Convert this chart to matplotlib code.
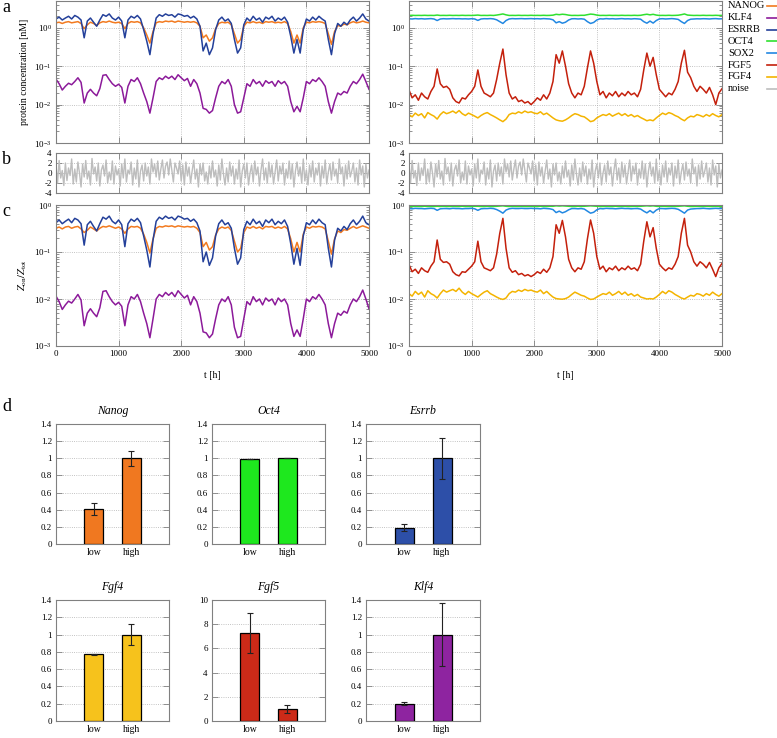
import numpy as np
import matplotlib
matplotlib.use('Agg')
import matplotlib.pyplot as plt
from matplotlib.lines import Line2D
from matplotlib.ticker import FuncFormatter, LogLocator, NullFormatter

plt.rcParams['font.family'] = ['Liberation Serif', 'DejaVu Serif']
plt.rcParams['mathtext.fontset'] = 'stix'
plt.rcParams['axes.unicode_minus'] = False

# time grid of the simulated traces (h)
t = np.arange(0, 5001, 50)

# panel a: protein concentration [nM]
nanog_a = [1.35, 1.4, 1.3, 1.4, 1.45, 1.35, 1.4, 1.45, 1.3, 0.95,
           1.2, 1.4, 1.3, 1.15, 1.35, 1.45, 1.4, 1.5, 1.4, 1.35,
           1.4, 1.3, 0.95, 1.3, 1.45, 1.4, 1.45, 1.35, 1.0, 0.65,
           0.4, 0.8, 1.35, 1.45, 1.4, 1.5, 1.45, 1.5, 1.4, 1.5,
           1.45, 1.4, 1.45, 1.4, 1.45, 1.35, 1.1, 0.55, 0.65, 0.45,
           0.55, 0.95, 1.3, 1.4, 1.35, 1.4, 1.2, 0.7, 0.4, 0.5,
           1.1, 1.4, 1.35, 1.45, 1.35, 1.4, 1.3, 1.45, 1.4, 1.45,
           1.35, 1.4, 1.35, 1.45, 1.3, 0.8, 0.4, 0.65, 0.4, 1.0,
           1.4, 1.35, 1.45, 1.4, 1.45, 1.4, 1.3, 0.7, 0.37, 0.8,
           1.15, 1.1, 1.25, 1.2, 1.35, 1.45, 1.35, 1.4, 1.5, 1.4,
           1.35]
esrrb_a = [1.7, 1.9, 1.6, 1.8, 2.0, 1.7, 2.1, 1.9, 1.6, 0.55,
           1.5, 1.8, 1.4, 1.1, 1.6, 2.2, 2.0, 2.3, 1.8, 1.6,
           1.9, 1.5, 0.55, 1.6, 2.0, 1.8, 2.1, 1.7, 0.9, 0.45,
           0.2, 0.7, 1.8, 2.2, 2.0, 2.3, 2.1, 2.2, 1.9, 2.3,
           2.2, 2.0, 2.1, 1.8, 2.0, 1.7, 1.1, 0.25, 0.4, 0.2,
           0.3, 0.9, 1.6, 1.9, 1.5, 1.7, 1.3, 0.5, 0.22, 0.3,
           1.2, 1.8, 1.5, 2.0, 1.6, 1.8, 1.4, 1.9, 1.7, 2.0,
           1.5, 1.8, 1.6, 1.9, 1.4, 0.6, 0.22, 0.5, 0.22, 0.9,
           1.7, 1.5, 1.9, 1.6, 2.0, 1.7, 1.5, 0.5, 0.2, 0.7,
           1.3, 1.1, 1.4, 1.2, 1.6, 1.9, 1.5, 1.8, 2.3, 1.7,
           1.5]
klf4_a = [0.046, 0.035, 0.024, 0.03, 0.036, 0.033, 0.04, 0.05, 0.038, 0.011,
          0.02, 0.025, 0.02, 0.017, 0.026, 0.058, 0.06, 0.045, 0.035, 0.03,
          0.034, 0.028, 0.011, 0.03, 0.045, 0.04, 0.05, 0.035, 0.02, 0.012,
          0.006, 0.015, 0.04, 0.05, 0.045, 0.055, 0.048, 0.055, 0.045, 0.06,
          0.05, 0.042, 0.048, 0.03, 0.045, 0.035, 0.02, 0.008, 0.0075, 0.006,
          0.007, 0.015, 0.03, 0.04, 0.035, 0.045, 0.03, 0.01, 0.006, 0.0065,
          0.015, 0.035, 0.03, 0.045, 0.035, 0.04, 0.03, 0.042, 0.036, 0.04,
          0.03, 0.042, 0.035, 0.04, 0.03, 0.012, 0.0065, 0.009, 0.0065, 0.015,
          0.04, 0.035, 0.045, 0.04, 0.05, 0.04, 0.03, 0.012, 0.006, 0.012,
          0.02, 0.018, 0.022, 0.02, 0.03, 0.04, 0.035, 0.045, 0.062, 0.04,
          0.025]
oct4_a = [2.1, 2.12, 2.1, 2.11, 2.1, 2.12, 2.1, 2.11, 2.1, 2.15,
          2.1, 2.11, 2.1, 2.12, 2.1, 2.11, 2.1, 2.12, 2.1, 2.11,
          2.1, 2.12, 2.15, 2.1, 2.11, 2.1, 2.12, 2.1, 2.15, 2.22,
          2.3, 2.18, 2.1, 2.11, 2.1, 2.12, 2.1, 2.11, 2.1, 2.12,
          2.1, 2.11, 2.1, 2.12, 2.1, 2.11, 2.14, 2.25, 2.2, 2.26,
          2.22, 2.14, 2.1, 2.11, 2.1, 2.12, 2.12, 2.2, 2.28, 2.24,
          2.15, 2.1, 2.11, 2.1, 2.12, 2.1, 2.11, 2.1, 2.12, 2.1,
          2.11, 2.1, 2.12, 2.1, 2.12, 2.2, 2.26, 2.18, 2.25, 2.15,
          2.1, 2.11, 2.1, 2.12, 2.1, 2.11, 2.13, 2.2, 2.3, 2.15,
          2.12, 2.1, 2.11, 2.1, 2.12, 2.1, 2.11, 2.1, 2.12, 2.1,
          2.11]
sox2_a = [1.72, 1.7, 1.74, 1.71, 1.73, 1.7, 1.72, 1.74, 1.7, 1.55,
          1.7, 1.73, 1.71, 1.72, 1.74, 1.72, 1.73, 1.71, 1.72, 1.7,
          1.73, 1.7, 1.56, 1.7, 1.73, 1.72, 1.74, 1.71, 1.62, 1.45,
          1.3, 1.55, 1.7, 1.74, 1.72, 1.73, 1.74, 1.72, 1.73, 1.74,
          1.72, 1.73, 1.71, 1.74, 1.72, 1.7, 1.62, 1.35, 1.45, 1.32,
          1.4, 1.6, 1.72, 1.73, 1.7, 1.72, 1.68, 1.45, 1.3, 1.38,
          1.6, 1.72, 1.7, 1.74, 1.71, 1.73, 1.7, 1.72, 1.74, 1.71,
          1.72, 1.7, 1.73, 1.71, 1.68, 1.45, 1.32, 1.5, 1.33, 1.55,
          1.71, 1.73, 1.7, 1.72, 1.74, 1.71, 1.66, 1.45, 1.3, 1.55,
          1.68, 1.7, 1.72, 1.71, 1.73, 1.72, 1.7, 1.73, 1.74, 1.71,
          1.72]
fgf5_a = [0.024, 0.015, 0.018, 0.013, 0.02, 0.016, 0.014, 0.022, 0.03, 0.085,
          0.035, 0.028, 0.03, 0.025, 0.015, 0.012, 0.011, 0.015, 0.014, 0.018,
          0.022, 0.03, 0.08, 0.03, 0.02, 0.018, 0.016, 0.02, 0.045, 0.12,
          0.28, 0.06, 0.02, 0.014, 0.016, 0.012, 0.013, 0.011, 0.012, 0.01,
          0.012, 0.015, 0.013, 0.018, 0.014, 0.02, 0.04, 0.2, 0.12, 0.25,
          0.1, 0.035, 0.02, 0.015, 0.02, 0.018, 0.03, 0.09, 0.25, 0.12,
          0.04, 0.018, 0.022, 0.015, 0.02, 0.017, 0.022, 0.016, 0.02, 0.017,
          0.022, 0.018, 0.02, 0.016, 0.025, 0.08, 0.22, 0.1, 0.17, 0.06,
          0.025, 0.02, 0.016, 0.02, 0.018, 0.025, 0.04, 0.12, 0.26, 0.07,
          0.05, 0.03, 0.022, 0.03, 0.025, 0.02, 0.028, 0.018, 0.01, 0.02,
          0.026]
fgf4_a = [0.0055, 0.0048, 0.006, 0.0052, 0.0058, 0.0045, 0.0062, 0.0055, 0.005, 0.0042,
          0.0055, 0.0065, 0.0058, 0.0062, 0.0068, 0.006, 0.007, 0.0058, 0.0052, 0.006,
          0.0055, 0.005, 0.0045, 0.0052, 0.0058, 0.0062, 0.0055, 0.005, 0.0045, 0.004,
          0.0036, 0.0042, 0.0055, 0.006, 0.0058, 0.0065, 0.006, 0.0068, 0.0062, 0.0065,
          0.006, 0.0058, 0.0065, 0.0055, 0.006, 0.0052, 0.0045, 0.004, 0.0038, 0.0037,
          0.004, 0.0045, 0.0052, 0.0058, 0.0055, 0.005, 0.0048, 0.0042, 0.0036, 0.0038,
          0.0045, 0.005, 0.0055, 0.0052, 0.0058, 0.005, 0.0055, 0.006, 0.0052, 0.0058,
          0.005, 0.0055, 0.0048, 0.0052, 0.0046, 0.0042, 0.0038, 0.004, 0.0038, 0.0045,
          0.0052, 0.006, 0.0055, 0.0062, 0.0058, 0.0052, 0.0048, 0.0042, 0.0038, 0.0045,
          0.005, 0.0048, 0.0055, 0.0052, 0.0048, 0.0055, 0.005, 0.0058, 0.0052, 0.0048,
          0.0055]

# panel b: noise
t_noise = np.arange(0, 5001, 25)
noise = [1.5, -2.0, 2.5, -1.0, 0.5, -2.5, 2.0, -1.5, 1.0, -0.5,
         2.8, -2.2, 0.8, -1.8, 2.2, 0.0, -2.8, 1.8, -0.8, 2.5,
         -1.2, 0.4, -2.4, 2.9, -0.2, 1.2, -1.6, 2.0, -2.6, 0.6,
         1.6, -0.6, 2.6, -2.0, 0.2, -1.4, 2.4, -2.2, 1.4, -0.4,
         0.8, -2.6, 1.8, -1.0, 2.8, -1.8, 0.6, -0.2, 2.2, -2.4,
         1.0, -1.2, 2.6, -2.8, 0.4, 1.6, -1.6, 2.0, -0.6, 1.2,
         -2.2, 2.8, 0.2, 1.8, -0.8, 2.4, -1.4, 0.8, 2.6, -1.0,
         1.4, 2.2, -0.4, 2.8, 0.6, -1.8, 2.0, 1.0, -0.2, 2.4,
         -1.6, 1.6, -2.4, 2.2, -0.6, 1.2, -2.0, 0.4, 2.6, -1.2,
         0.8, -2.8, 1.8, -0.4, 2.0, -1.6, 0.2, -2.2, 1.4, -1.0,
         2.4, -0.8, 0.6, -2.6, 1.6, -1.4, 2.8, -0.2, -2.4, 1.0,
         -1.8, 2.2, -0.6, 1.4, -2.2, 0.8, -1.2, 2.6, -2.8, 0.4,
         1.8, -1.0, 2.0, -2.4, 0.0, 1.6, -1.8, 2.4, -0.4, 1.2,
         -2.6, 0.6, 2.8, -1.4, 1.0, -2.0, 2.2, -0.8, 1.6, -2.2,
         0.2, 2.6, -1.6, 1.4, -0.2, 2.0, -2.4, 0.8, -1.0, 2.4,
         -1.2, 1.8, -2.8, 0.4, 2.2, -0.6, 1.2, -2.0, 2.8, -1.6,
         0.6, -2.4, 1.6, -0.8, 2.4, -1.8, 1.0, -0.4, 2.0, -2.6,
         1.4, -1.0, 2.6, -2.2, 0.2, 1.8, -1.4, 2.2, -0.6, 0.8,
         -2.0, 2.8, -0.2, 1.2, -2.6, 1.6, -1.2, 2.4, -0.8, 0.4,
         2.0, -1.8, 1.0, -2.4, 2.6, -0.4, 1.4, -2.8, 1.8, -1.0,
         0.6]

# panel c: Z_on / Z_tot
nanog_c = [0.32, 0.34, 0.31, 0.34, 0.35, 0.32, 0.34, 0.35, 0.31, 0.26,
           0.29, 0.34, 0.31, 0.28, 0.32, 0.35, 0.34, 0.36, 0.34, 0.32,
           0.34, 0.31, 0.25, 0.31, 0.35, 0.34, 0.35, 0.32, 0.24, 0.16,
           0.095, 0.19, 0.32, 0.35, 0.34, 0.36, 0.35, 0.36, 0.34, 0.36,
           0.35, 0.34, 0.35, 0.34, 0.35, 0.32, 0.26, 0.13, 0.16, 0.11,
           0.13, 0.23, 0.31, 0.34, 0.32, 0.34, 0.29, 0.17, 0.1, 0.12,
           0.26, 0.34, 0.32, 0.35, 0.32, 0.34, 0.31, 0.35, 0.34, 0.35,
           0.32, 0.34, 0.32, 0.35, 0.31, 0.19, 0.1, 0.16, 0.1, 0.24,
           0.34, 0.32, 0.35, 0.34, 0.35, 0.34, 0.31, 0.17, 0.09, 0.19,
           0.28, 0.26, 0.3, 0.29, 0.32, 0.35, 0.32, 0.34, 0.36, 0.34,
           0.32]
esrrb_c = [0.42, 0.48, 0.4, 0.45, 0.5, 0.42, 0.52, 0.48, 0.4, 0.14,
           0.38, 0.45, 0.35, 0.28, 0.4, 0.55, 0.5, 0.58, 0.45, 0.4,
           0.48, 0.38, 0.13, 0.4, 0.5, 0.45, 0.52, 0.42, 0.22, 0.11,
           0.048, 0.18, 0.45, 0.55, 0.5, 0.58, 0.52, 0.55, 0.48, 0.58,
           0.55, 0.5, 0.52, 0.45, 0.5, 0.42, 0.28, 0.062, 0.1, 0.052,
           0.075, 0.22, 0.4, 0.48, 0.38, 0.42, 0.32, 0.12, 0.055, 0.075,
           0.3, 0.45, 0.38, 0.5, 0.4, 0.45, 0.35, 0.48, 0.42, 0.5,
           0.38, 0.45, 0.4, 0.48, 0.35, 0.15, 0.055, 0.12, 0.052, 0.22,
           0.42, 0.38, 0.48, 0.4, 0.5, 0.42, 0.38, 0.12, 0.048, 0.18,
           0.32, 0.28, 0.35, 0.3, 0.4, 0.48, 0.38, 0.45, 0.58, 0.42,
           0.38]
klf4_c = [0.0115, 0.0088, 0.006, 0.0075, 0.009, 0.0082, 0.01, 0.0125, 0.0095, 0.0027,
          0.005, 0.0062, 0.005, 0.0042, 0.0065, 0.0145, 0.015, 0.0112, 0.0088, 0.0075,
          0.0085, 0.007, 0.0027, 0.0075, 0.0112, 0.01, 0.0125, 0.0088, 0.005, 0.003,
          0.0015, 0.0038, 0.01, 0.0125, 0.0112, 0.0138, 0.012, 0.0138, 0.0112, 0.015,
          0.0125, 0.0105, 0.012, 0.0075, 0.0112, 0.0088, 0.005, 0.002, 0.0019, 0.0015,
          0.0018, 0.0038, 0.0075, 0.01, 0.0088, 0.0112, 0.0075, 0.0025, 0.0015, 0.0016,
          0.0038, 0.0088, 0.0075, 0.0112, 0.0088, 0.01, 0.0075, 0.0105, 0.009, 0.01,
          0.0075, 0.0105, 0.0088, 0.01, 0.0075, 0.003, 0.0016, 0.0022, 0.0016, 0.0038,
          0.01, 0.0088, 0.0112, 0.01, 0.0125, 0.01, 0.0075, 0.003, 0.0015, 0.003,
          0.005, 0.0045, 0.0055, 0.005, 0.0075, 0.01, 0.0088, 0.0112, 0.0155, 0.01,
          0.0062]
oct4_c = [0.93, 0.93, 0.94, 0.93, 0.93, 0.94, 0.93, 0.93, 0.93, 0.94,
          0.93, 0.94, 0.93, 0.93, 0.94, 0.93, 0.93, 0.94, 0.93, 0.93,
          0.93, 0.94, 0.94, 0.93, 0.93, 0.94, 0.93, 0.93, 0.94, 0.95,
          0.96, 0.94, 0.93, 0.94, 0.93, 0.93, 0.94, 0.93, 0.93, 0.94,
          0.93, 0.93, 0.94, 0.93, 0.93, 0.94, 0.94, 0.96, 0.95, 0.96,
          0.95, 0.94, 0.93, 0.93, 0.94, 0.93, 0.94, 0.95, 0.96, 0.95,
          0.94, 0.93, 0.93, 0.94, 0.93, 0.93, 0.94, 0.93, 0.93, 0.94,
          0.93, 0.93, 0.94, 0.93, 0.94, 0.95, 0.96, 0.95, 0.96, 0.94,
          0.93, 0.94, 0.93, 0.93, 0.94, 0.93, 0.94, 0.95, 0.96, 0.94,
          0.93, 0.93, 0.94, 0.93, 0.93, 0.94, 0.93, 0.93, 0.94, 0.93,
          0.93]
sox2_c = [0.84, 0.83, 0.85, 0.84, 0.84, 0.83, 0.84, 0.85, 0.84, 0.77,
          0.83, 0.84, 0.84, 0.83, 0.85, 0.84, 0.84, 0.83, 0.84, 0.84,
          0.85, 0.83, 0.77, 0.83, 0.84, 0.84, 0.85, 0.84, 0.8, 0.74,
          0.67, 0.78, 0.83, 0.85, 0.84, 0.84, 0.85, 0.84, 0.84, 0.85,
          0.84, 0.84, 0.83, 0.85, 0.84, 0.83, 0.8, 0.69, 0.74, 0.68,
          0.72, 0.79, 0.84, 0.84, 0.83, 0.84, 0.82, 0.74, 0.67, 0.7,
          0.79, 0.84, 0.83, 0.85, 0.84, 0.84, 0.83, 0.84, 0.85, 0.84,
          0.84, 0.83, 0.84, 0.84, 0.82, 0.74, 0.68, 0.76, 0.68, 0.78,
          0.84, 0.84, 0.83, 0.84, 0.85, 0.84, 0.81, 0.74, 0.67, 0.78,
          0.82, 0.83, 0.84, 0.84, 0.85, 0.84, 0.83, 0.84, 0.85, 0.84,
          0.84]
fgf5_c = [0.054, 0.038, 0.043, 0.035, 0.046, 0.04, 0.037, 0.05, 0.062, 0.18,
          0.07, 0.06, 0.062, 0.055, 0.038, 0.033, 0.031, 0.038, 0.037, 0.043,
          0.05, 0.062, 0.17, 0.062, 0.046, 0.043, 0.04, 0.046, 0.09, 0.25,
          0.52, 0.12, 0.046, 0.037, 0.04, 0.033, 0.035, 0.031, 0.033, 0.03,
          0.033, 0.038, 0.035, 0.043, 0.037, 0.046, 0.08, 0.38, 0.25, 0.47,
          0.21, 0.07, 0.046, 0.038, 0.046, 0.043, 0.062, 0.19, 0.48, 0.25,
          0.08, 0.043, 0.05, 0.038, 0.046, 0.042, 0.05, 0.04, 0.046, 0.042,
          0.05, 0.043, 0.046, 0.04, 0.055, 0.17, 0.44, 0.21, 0.33, 0.12,
          0.055, 0.046, 0.04, 0.046, 0.043, 0.055, 0.08, 0.25, 0.52, 0.14,
          0.1, 0.062, 0.05, 0.062, 0.055, 0.046, 0.06, 0.043, 0.03, 0.046,
          0.057]
fgf4_c = [0.013, 0.0115, 0.0145, 0.0125, 0.014, 0.011, 0.015, 0.013, 0.012, 0.0105,
          0.013, 0.0155, 0.014, 0.015, 0.016, 0.0145, 0.017, 0.014, 0.0125, 0.0145,
          0.013, 0.012, 0.011, 0.0125, 0.014, 0.015, 0.013, 0.012, 0.011, 0.0102,
          0.0098, 0.0105, 0.013, 0.0145, 0.014, 0.0155, 0.0145, 0.016, 0.015, 0.0155,
          0.0145, 0.014, 0.0155, 0.013, 0.0145, 0.0125, 0.011, 0.0102, 0.01, 0.0099,
          0.0102, 0.011, 0.0125, 0.014, 0.013, 0.012, 0.0115, 0.0105, 0.0098, 0.01,
          0.011, 0.012, 0.013, 0.0125, 0.014, 0.012, 0.013, 0.0145, 0.0125, 0.014,
          0.012, 0.013, 0.0115, 0.0125, 0.011, 0.0105, 0.01, 0.0102, 0.01, 0.011,
          0.0125, 0.0145, 0.013, 0.015, 0.014, 0.0125, 0.0115, 0.0105, 0.01, 0.011,
          0.012, 0.0115, 0.013, 0.0125, 0.0115, 0.013, 0.012, 0.014, 0.0125, 0.0115,
          0.013]

# panel d: relative expression, low vs high
conditions = ['low', 'high']
nanog_bar, nanog_err = [0.41, 1.0], [0.07, 0.09]
oct4_bar, oct4_err = [0.99, 1.0], [0.0, 0.0]
esrrb_bar, esrrb_err = [0.19, 1.0], [0.04, 0.24]
fgf4_bar, fgf4_err = [0.77, 1.0], [0.005, 0.12]
fgf5_bar, fgf5_err = [7.3, 1.0], [1.65, 0.35]
klf4_bar, klf4_err = [0.2, 1.0], [0.02, 0.36]

col = {'NANOG': '#f27a1f', 'KLF4': '#8c1a9a', 'ESRRB': '#24409a',
       'OCT4': '#2fe02f', 'SOX2': '#2288e2', 'FGF5': '#c4200c',
       'FGF4': '#f4b400', 'noise': '#bdbdbd'}

W, H = 777, 738
fig = plt.figure(figsize=(W / 100, H / 100), dpi=100)


def px_axes(x0, y0, x1, y1):
    return fig.add_axes([x0 / W, 1 - y1 / H, (x1 - x0) / W, (y1 - y0) / H])


def style(ax):
    for s in ax.spines.values():
        s.set_color('#808080')
        s.set_linewidth(0.8)
    ax.tick_params(which='both', direction='in', top=True, right=True,
                   color='#808080', labelsize=6.5, width=0.6, pad=3)
    ax.tick_params(which='major', length=4)
    ax.tick_params(which='minor', length=2)
    ax.set_axisbelow(True)
    ax.grid(True, which='major', linestyle=':', color='#b0b0b0', linewidth=0.6)


def series_axes(x0, y0, x1, y1, top, labels):
    ax = px_axes(x0, y0, x1, y1)
    ax.set_yscale('log')
    ax.set_xlim(0, 5000)
    ax.set_ylim(1e-3, top)
    ax.set_xticks(range(0, 5001, 1000))
    ax.yaxis.set_major_locator(LogLocator(base=10, numticks=10))
    ax.yaxis.set_minor_locator(LogLocator(base=10, subs=np.arange(2, 10), numticks=10))
    ax.yaxis.set_minor_formatter(NullFormatter())
    style(ax)
    if labels:
        ax.set_xlabel('t [h]', fontsize=7, labelpad=9)
    else:
        ax.set_xticklabels([])
    return ax


lw = 1.1
# a
ax = series_axes(56, 1, 369, 143, 5, False)
ax.plot(t, nanog_a, color=col['NANOG'], lw=lw)
ax.plot(t, klf4_a, color=col['KLF4'], lw=lw)
ax.plot(t, esrrb_a, color=col['ESRRB'], lw=lw)
ax.set_ylabel('protein concentration [nM]', fontsize=7)
ax = series_axes(409, 1, 722, 143, 5, False)
ax.plot(t, oct4_a, color=col['OCT4'], lw=lw)
ax.plot(t, sox2_a, color=col['SOX2'], lw=lw)
ax.plot(t, fgf5_a, color=col['FGF5'], lw=lw)
ax.plot(t, fgf4_a, color=col['FGF4'], lw=lw)

# b
for x0, x1 in [(56, 369), (409, 722)]:
    ax = px_axes(x0, 153, x1, 193)
    ax.plot(t_noise, noise, color=col['noise'], lw=1.0)
    ax.set_xlim(0, 5000)
    ax.set_ylim(-4, 4)
    ax.set_yticks([-4, -2, 0, 2, 4])
    ax.set_xticks(range(0, 5001, 1000))
    ax.set_xticklabels([])
    style(ax)

# c
ax = series_axes(56, 205, 369, 346, 1, True)
ax.plot(t, nanog_c, color=col['NANOG'], lw=lw)
ax.plot(t, klf4_c, color=col['KLF4'], lw=lw)
ax.plot(t, esrrb_c, color=col['ESRRB'], lw=lw)
ax.set_ylabel(r'$Z_{\rm on}/Z_{\rm tot}$', fontsize=7.5)
ax = series_axes(409, 205, 722, 346, 1, True)
ax.plot(t, oct4_c, color=col['OCT4'], lw=lw)
ax.plot(t, sox2_c, color=col['SOX2'], lw=lw)
ax.plot(t, fgf5_c, color=col['FGF5'], lw=lw)
ax.plot(t, fgf4_c, color=col['FGF4'], lw=lw)

# legend
for i, name in enumerate(['NANOG', 'KLF4', 'ESRRB', 'OCT4', 'SOX2', 'FGF5', 'FGF4', 'noise']):
    y = 1 - (6 + 11.8 * i) / H
    fig.text(728 / W, y, name, fontsize=7.5, va='center', ha='left')
    fig.add_artist(Line2D([767 / W, 790 / W], [y, y], color=col[name], lw=1.2,
                          transform=fig.transFigure))


# d
def bar_axes(x0, y0, x1, y1, title, vals, errs, color, ymax, step):
    ax = px_axes(x0, y0, x1, y1)
    ax.bar([1, 2], vals, width=0.5, color=color, edgecolor='black', linewidth=0.9,
           yerr=errs, capsize=2,
           error_kw=dict(elinewidth=0.8, capthick=0.8, ecolor='#222222'), zorder=3)
    ax.set_xlim(0, 3)
    ax.set_ylim(0, ymax)
    ax.set_yticks(np.arange(0, ymax + 1e-9, step))
    ax.yaxis.set_major_formatter(FuncFormatter(lambda v, p: f'{v:g}'))
    ax.set_xticks([1, 2])
    ax.set_xticklabels(conditions)
    style(ax)
    ax.grid(False)
    ax.yaxis.grid(True, linestyle=':', color='#b0b0b0', linewidth=0.6)
    ax.tick_params(axis='x', length=0, top=False, labelsize=7)
    ax.set_title(title, style='italic', fontsize=8.5, pad=7)


bar_axes(56, 424, 169, 544, 'Nanog', nanog_bar, nanog_err, '#f07820', 1.4, 0.2)
bar_axes(212, 424, 325, 544, 'Oct4', oct4_bar, oct4_err, '#1ee81e', 1.4, 0.2)
bar_axes(366, 424, 480, 544, 'Esrrb', esrrb_bar, esrrb_err, '#2d4fa8', 1.4, 0.2)
bar_axes(56, 600, 169, 721, 'Fgf4', fgf4_bar, fgf4_err, '#f6c21c', 1.4, 0.2)
bar_axes(212, 600, 325, 721, 'Fgf5', fgf5_bar, fgf5_err, '#cc2a18', 10, 2)
bar_axes(366, 600, 480, 721, 'Klf4', klf4_bar, klf4_err, '#8e24a0', 1.4, 0.2)

for letter, y in [('a', 7), ('b', 160), ('c', 211), ('d', 407)]:
    fig.text(2 / W, 1 - y / H, letter, fontsize=13, va='center', ha='left')

fig.savefig('out.png', dpi=100)
